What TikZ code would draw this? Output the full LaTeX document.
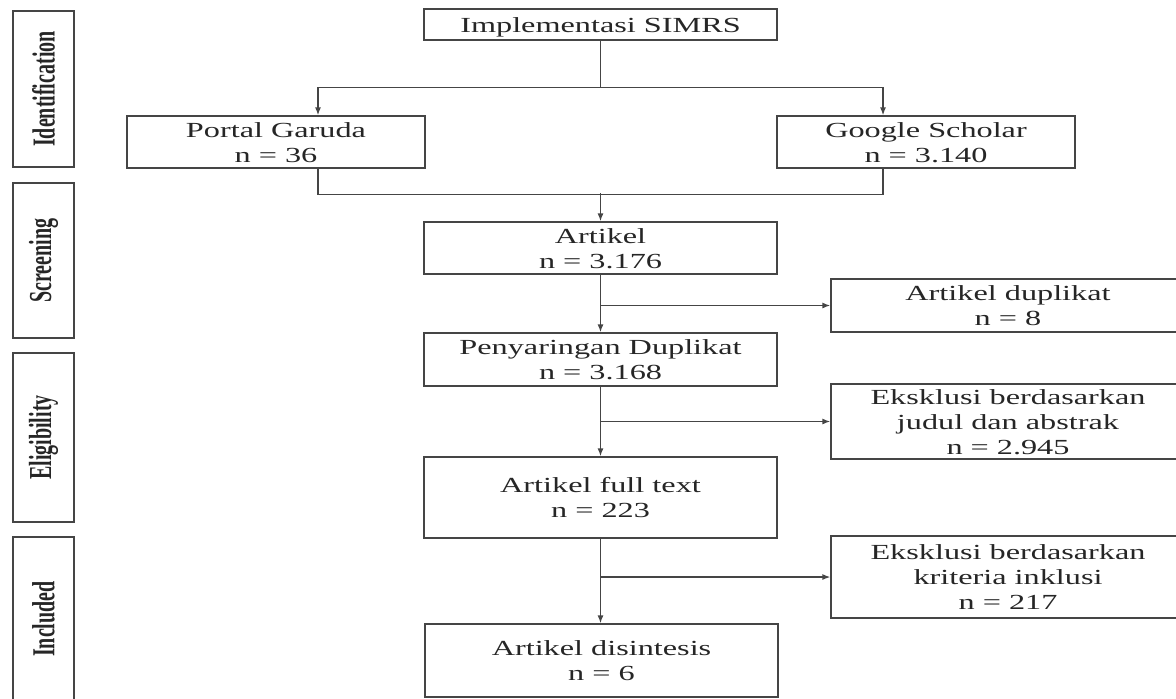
\documentclass[tikz,border=0pt]{standalone}
\usepackage{fontspec}
\setmainfont{Liberation Serif}
\usetikzlibrary{arrows.meta,calc}
\definecolor{linegray}{HTML}{454545}
\definecolor{textgray}{HTML}{262626}
\newcommand{\widetext}[1]{\raisebox{-2.5pt}[\height][\depth]{\scalebox{1.5}[1]{\begin{tabular}{@{}c@{}}#1\end{tabular}}}}
\newcommand{\phaselabel}[1]{\scalebox{1.6}[1]{\rotatebox{90}{\fontsize{20}{24}\selectfont\bfseries #1}}}
\begin{document}
\begin{tikzpicture}[x=1pt,y=-1pt,
  box/.style={draw=linegray, line width=1.3pt, inner sep=0pt, text=textgray,
    font=\fontsize{21.5}{25}\selectfont, anchor=center},
  mainbox/.style={box, minimum width=353pt},
  sidebox/.style={box, minimum width=354pt},
  phasebox/.style={box, minimum width=61pt},
  conn/.style={draw=linegray, line width=1.3pt},
  arr/.style={conn, -{Latex[length=8pt,width=6pt]}}
]
\useasboundingbox (0,0) rectangle (1176,699);
\fill[white] (0,0) rectangle (1176,699);

% phase labels
\node[phasebox, minimum height=156pt] (ident) at (43.5,89) {\phaselabel{Identification}};
\node[phasebox, minimum height=155pt] (screen) at (43.5,260.5) {\phaselabel{Screening}};
\node[phasebox, minimum height=169pt] (elig) at (43.5,437.5) {\phaselabel{Eligibility}};
\node[phasebox, minimum height=164pt] (incl) at (43.5,619) {\phaselabel{Included}};

% main column
\node[mainbox, minimum height=31pt] (impl) at (600.5,24.5) {\widetext{Implementasi SIMRS}};
\node[box, minimum width=298pt, minimum height=52pt] (portal) at (276,142) {\widetext{Portal Garuda\\ n = 36}};
\node[box, minimum width=298pt, minimum height=52pt] (google) at (926,142) {\widetext{Google Scholar\\ n = 3.140}};
\node[mainbox, minimum height=52pt] (artikel) at (600.5,248) {\widetext{Artikel\\ n = 3.176}};
\node[mainbox, minimum height=53pt] (penyar) at (600.5,359.5) {\widetext{Penyaringan Duplikat\\ n = 3.168}};
\node[mainbox, minimum height=81pt] (full) at (600.5,497.5) {\widetext{Artikel full text\\ n = 223}};
\node[mainbox, minimum height=73pt] (sintesis) at (601.5,660.5) {\widetext{Artikel disintesis\\ n = 6}};

% side boxes
\node[sidebox, minimum height=53pt] (dup) at (1008,305.5) {\widetext{Artikel duplikat\\ n = 8}};
\node[sidebox, minimum height=71pt] (eks1) at (1008,421.5) {\widetext{Eksklusi berdasarkan\\ judul dan abstrak\\ n = 2.945}};
\node[sidebox, minimum height=82pt] (eks2) at (1008,577) {\widetext{Eksklusi berdasarkan\\ kriteria inklusi\\ n = 217}};

% connectors
\draw[conn] (impl.south) -- ++(0,47) coordinate (split);
\draw[arr] (split) -| ([xshift=42pt]portal.north);
\draw[arr] (split) -| ([xshift=-43pt]google.north);
\draw[conn] ([xshift=42pt]portal.south) -- ++(0,26) -| ([xshift=-43pt]google.south);
\draw[arr] ([yshift=28pt]artikel.north) -- (artikel.north);
\draw[arr] (artikel.south) -- (penyar.north);
\draw[arr] (artikel.south |- dup.west) -- (dup.west);
\draw[arr] (penyar.south) -- (full.north);
\draw[arr] (penyar.south |- eks1.west) -- (eks1.west);
\draw[arr] (full.south) -- (sintesis.north -| full.south);
\draw[arr] (full.south |- eks2.west) -- (eks2.west);
\end{tikzpicture}
\end{document}
